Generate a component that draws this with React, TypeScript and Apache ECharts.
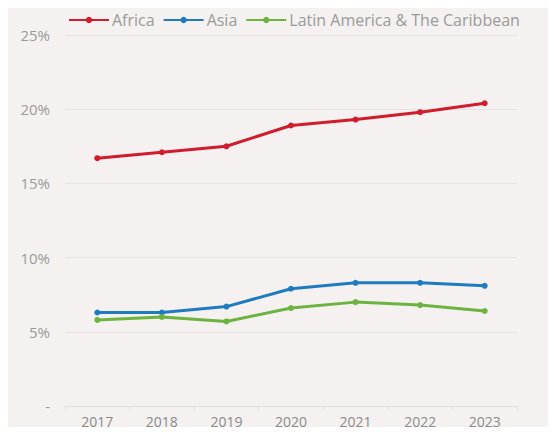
import React, { useEffect, useRef } from "react";
import * as echarts from "echarts";

const years = ["2017", "2018", "2019", "2020", "2021", "2022", "2023"];
const africa = [16.7, 17.1, 17.5, 18.9, 19.3, 19.8, 20.4];
const asia = [6.3, 6.3, 6.7, 7.9, 8.3, 8.3, 8.1];
const latinAmerica = [5.8, 6.0, 5.7, 6.6, 7.0, 6.8, 6.4];
const seriesNames = ["Africa", "Asia", "Latin America & The Caribbean"];
const colors = ["#d01c2c", "#1f7bc0", "#6cb33f"];

export default function App() {
  const ref = useRef<HTMLDivElement>(null);
  useEffect(() => {
    if (!ref.current) return;
    const chart = echarts.init(ref.current, null, { renderer: "svg" });
    const font = "'Open Sans', 'DejaVu Sans Condensed', sans-serif";
    const mk = (name: string, data: number[], color: string) => ({
      name,
      type: "line",
      data,
      symbol: "circle",
      symbolSize: 6,
      lineStyle: { width: 3, color },
      itemStyle: { color },
    });
    chart.setOption({
      animation: false,
      backgroundColor: "#f4f1f0",
      color: colors,
      legend: {
        top: 12,
        left: 68,
        itemWidth: 40,
        itemHeight: 8,
        itemGap: 8,
        padding: 0,
        textStyle: { color: "#9a9a9a", fontSize: 16, fontFamily: font, padding: [0, 0, 0, -2] },
        data: seriesNames,
      },
      grid: { left: 65, right: 39, top: 35, bottom: 29 },
      xAxis: {
        type: "category",
        data: years,
        boundaryGap: true,
        axisLine: { lineStyle: { color: "#e2dedd" } },
        axisTick: { show: true, lineStyle: { color: "#e2dedd" } },
        axisLabel: { color: "#8a8a8a", fontSize: 14, fontFamily: font, margin: 8 },
      },
      yAxis: {
        type: "value",
        min: 0,
        max: 25,
        interval: 5,
        axisLine: { show: false },
        axisTick: { show: false },
        splitLine: { lineStyle: { color: "#e8e4e3" } },
        axisLabel: {
          color: "#9a9a9a",
          fontSize: 15,
          fontFamily: font,
          margin: 15,
          formatter: (v: number) => (v === 0 ? "-" : v + "%"),
        },
      },
      series: [
        mk(seriesNames[0], africa, colors[0]),
        mk(seriesNames[1], asia, colors[1]),
        mk(seriesNames[2], latinAmerica, colors[2]),
      ],
    });
    return () => chart.dispose();
  }, []);
  return <div ref={ref} style={{ width: 556, height: 435, margin: -8 }} />;
}
